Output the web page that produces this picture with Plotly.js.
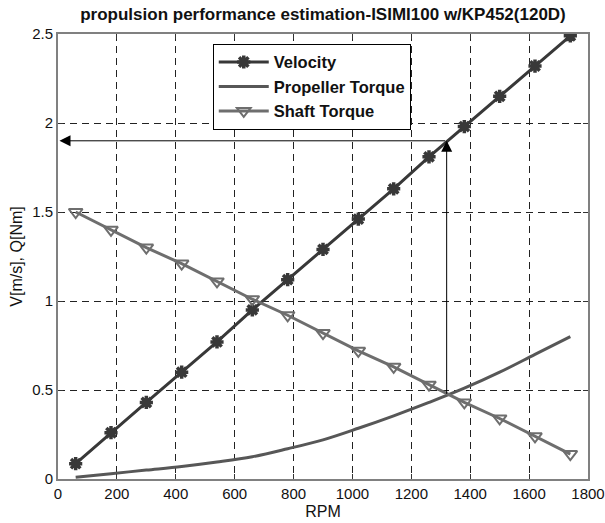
<!DOCTYPE html>
<html>
<head>
<meta charset="utf-8">
<script src="https://cdn.plot.ly/plotly-3.0.1.min.js"></script>
<style>html,body{margin:0;padding:0;background:#fff;}#chart{width:605px;height:523px;}</style>
</head>
<body>
<div id="chart"></div>
<script>
// RPM sample points
const rpm = [60, 180, 300, 420, 540, 660, 780, 900, 1020, 1140, 1260, 1380, 1500, 1620, 1740];
// Velocity [m/s]
const velocity = [0.086, 0.26, 0.43, 0.60, 0.77, 0.95, 1.12, 1.29, 1.46, 1.63, 1.81, 1.98, 2.15, 2.32, 2.49];
// Propeller torque [Nm]
const propellerTorque = [0.01, 0.03, 0.05, 0.07, 0.095, 0.125, 0.17, 0.22, 0.285, 0.355, 0.43, 0.51, 0.60, 0.70, 0.80];
// Shaft torque [Nm]
const shaftTorque = [1.50, 1.40, 1.30, 1.21, 1.11, 1.01, 0.92, 0.82, 0.72, 0.63, 0.53, 0.43, 0.34, 0.24, 0.14];
// Operating point (arrows)
const opRPM = 1320;
const opTorque = 0.47;
const opVelocity = 1.9;
const arrowEndRPM = 5;

const xTicks = [0, 200, 400, 600, 800, 1000, 1200, 1400, 1600, 1800];
const yTicks = [0, 0.5, 1, 1.5, 2, 2.5];
const yTickText = ['0', '0.5', '1', '1.5', '2', '2.5'];

const font = 'Liberation Sans, Arial, Helvetica, sans-serif';

const traces = [
  {
    x: rpm, y: velocity, name: 'Velocity', type: 'scatter', mode: 'lines+markers',
    line: {color: '#383838', width: 3},
    marker: {symbol: 'asterisk-open', size: 11, color: '#383838', line: {color: '#383838', width: 3.5}}
  },
  {
    x: rpm, y: propellerTorque, name: 'Propeller Torque', type: 'scatter', mode: 'lines',
    line: {color: '#575757', width: 3, shape: 'spline'}
  },
  {
    x: rpm, y: shaftTorque, name: 'Shaft Torque', type: 'scatter', mode: 'lines+markers',
    line: {color: '#6e6e6e', width: 3},
    marker: {symbol: 'triangle-down-open', size: 12, color: '#6e6e6e', line: {color: '#6e6e6e', width: 2}}
  }
];

const axisCommon = {
  showline: true, linecolor: '#808080', linewidth: 2, mirror: 'ticks',
  ticks: 'inside', ticklen: 5, tickcolor: '#333', tickwidth: 1,
  showgrid: true, gridcolor: '#222', gridwidth: 1, griddash: '7px,5px',
  zeroline: false, tickfont: {family: font, size: 15, color: '#111'}
};

const layout = {
  width: 605, height: 523,
  margin: {l: 58, r: 17, t: 34, b: 44},
  paper_bgcolor: '#fff', plot_bgcolor: '#fff',
  title: {
    text: '<b>propulsion performance estimation-ISIMI100 w/KP452(120D)</b>',
    font: {family: font, size: 17, color: '#111'},
    x: 0.5, xref: 'paper', y: 1 - 14 / 523, yref: 'container', yanchor: 'middle'
  },
  xaxis: Object.assign({}, axisCommon, {
    range: [0, 1800], tickvals: xTicks,
    title: {text: 'RPM', font: {family: font, size: 16, color: '#111'}, standoff: 5}
  }),
  yaxis: Object.assign({}, axisCommon, {
    range: [0, 2.5], tickvals: yTicks, ticktext: yTickText,
    title: {text: 'V[m/s], Q[Nm]', font: {family: font, size: 16, color: '#111'}, standoff: 6}
  }),
  legend: {
    x: 0.292, y: 0.978, xanchor: 'left', yanchor: 'top',
    bgcolor: '#fff', bordercolor: '#000', borderwidth: 1,
    font: {family: font, size: 16.5, color: '#111', weight: 'bold'},
    itemwidth: 50, tracegroupgap: 0
  },
  showlegend: true,
  annotations: [
    {
      x: opRPM, y: opVelocity, ax: opRPM, ay: opTorque,
      xref: 'x', yref: 'y', axref: 'x', ayref: 'y',
      text: '', showarrow: true, arrowhead: 2, arrowsize: 2.2, arrowwidth: 1, arrowcolor: '#000'
    },
    {
      x: arrowEndRPM, y: opVelocity, ax: opRPM, ay: opVelocity,
      xref: 'x', yref: 'y', axref: 'x', ayref: 'y',
      text: '', showarrow: true, arrowhead: 2, arrowsize: 2.2, arrowwidth: 1, arrowcolor: '#000'
    }
  ]
};

Plotly.newPlot('chart', traces, layout, {displayModeBar: false, staticPlot: true});
</script>
</body>
</html>
